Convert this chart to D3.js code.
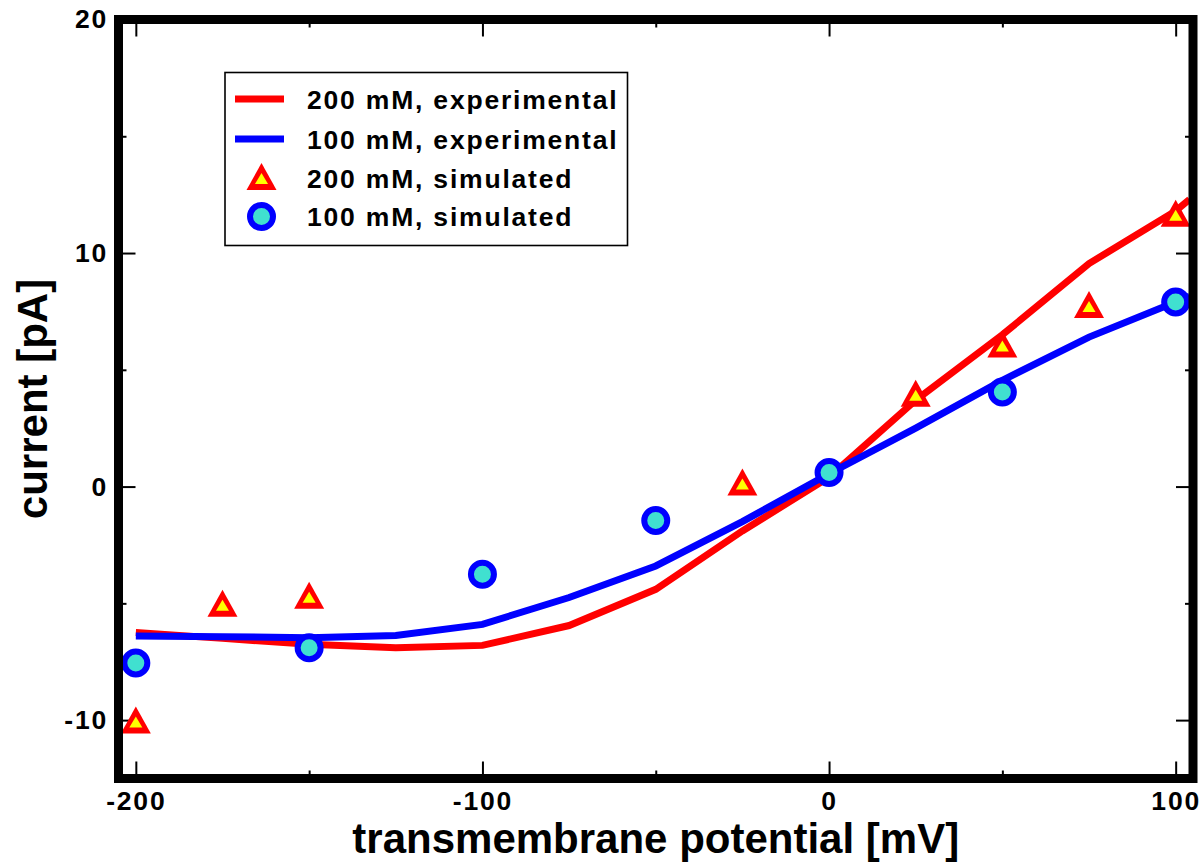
<!DOCTYPE html>
<html>
<head>
<meta charset="utf-8">
<script src="https://cdn.jsdelivr.net/npm/d3@7"></script>
<style>
  html, body { margin: 0; padding: 0; background: #fff; }
  svg { display: block; font-family: "Liberation Sans", Arial, Helvetica, sans-serif; font-weight: bold; }
</style>
</head>
<body>
<svg id="chart" width="1204" height="862"></svg>
<script>
// Experimental I-V curves (sampled every 25 mV, last sample runs into the frame)
const expVoltage = [-200, -175, -150, -125, -100, -75, -50, -25, 0, 25, 50, 75, 100, 104];
const exp200 = [-6.25, -6.5, -6.75, -6.9, -6.8, -5.95, -4.4, -1.9, 0.4, 3.7, 6.5, 9.55, 11.8, 12.3];
const exp100 = [-6.4, -6.43, -6.47, -6.38, -5.9, -4.75, -3.4, -1.5, 0.55, 2.5, 4.55, 6.4, 7.9, 8.15];

// Simulated currents
const sim200Voltage = [-200, -175, -150, -25, 25, 50, 75, 100];
const sim200 = [-10.0, -5.0, -4.65, 0.2, 4.0, 6.1, 7.8, 11.7];
const sim100Voltage = [-200, -150, -100, -50, 0, 50, 100];
const sim100 = [-7.55, -6.9, -3.75, -1.45, 0.6, 4.05, 7.9];

// Axes
const xMajorTicks = [-200, -100, 0, 100];
const xMajorLabels = ["-200", "-100", "0", "100"];
const xMinorTicks = [-150, -50, 50];
const yMajorTicks = [-10, 0, 10, 20];
const yMajorLabels = ["-10", "0", "10", "20"];
const yMinorTicks = [-5, 5, 15];

const legendLabels = ["200 mM, experimental", "100 mM, experimental", "200 mM, simulated", "100 mM, simulated"];
const xTitle = "transmembrane potential [mV]";
const yTitle = "current [pA]";

const RED = "#ff0000", BLUE = "#0000ff", YELLOW = "#ffff00", TURQ = "#40e0d0";

const svg = d3.select("#chart");
const pLeft = 118.5, pRight = 1193, pTop = 19.5, pBottom = 778.5;

const x = d3.scaleLinear().domain([-205, 105]).range([pLeft, pRight]);
const y = d3.scaleLinear().domain([-12.5, 20]).range([pBottom, pTop]);

// clip for the data lines
svg.append("defs").append("clipPath").attr("id", "plotClip")
  .append("rect").attr("x", pLeft).attr("y", pTop).attr("width", pRight - pLeft).attr("height", pBottom - pTop);

// ticks (inward on all four sides)
const MAJ = 17, MIN = 8;
function styleAxis(g) {
  g.select(".domain").remove();
  g.selectAll(".tick line").attr("stroke", "#000").attr("stroke-width", 2);
  g.selectAll(".tick text").attr("fill", "#000").style("font-size", "26.5px")
    .style("font-weight", "bold").style("letter-spacing", "1.8px");
}
const xLabelOf = d => xMajorLabels[xMajorTicks.indexOf(d)];
const yLabelOf = d => yMajorLabels[yMajorTicks.indexOf(d)];

svg.append("g").attr("transform", `translate(0,${pBottom})`)
  .call(d3.axisBottom(x).tickValues(xMajorTicks).tickFormat(xLabelOf).tickSizeInner(-MAJ).tickSizeOuter(0).tickPadding(12.5))
  .call(styleAxis);
svg.append("g").attr("transform", `translate(0,${pBottom})`)
  .call(d3.axisBottom(x).tickValues(xMinorTicks).tickFormat("").tickSizeInner(-MIN).tickSizeOuter(0))
  .call(styleAxis);
svg.append("g").attr("transform", `translate(0,${pTop})`)
  .call(d3.axisTop(x).tickValues(xMajorTicks).tickFormat("").tickSizeInner(-MAJ).tickSizeOuter(0))
  .call(styleAxis);
svg.append("g").attr("transform", `translate(0,${pTop})`)
  .call(d3.axisTop(x).tickValues(xMinorTicks).tickFormat("").tickSizeInner(-MIN).tickSizeOuter(0))
  .call(styleAxis);

svg.append("g").attr("transform", `translate(${pLeft},0)`)
  .call(d3.axisLeft(y).tickValues(yMajorTicks).tickFormat(yLabelOf).tickSizeInner(-MAJ).tickSizeOuter(0).tickPadding(10.5))
  .call(styleAxis);
svg.append("g").attr("transform", `translate(${pLeft},0)`)
  .call(d3.axisLeft(y).tickValues(yMinorTicks).tickFormat("").tickSizeInner(-MIN).tickSizeOuter(0))
  .call(styleAxis);
svg.append("g").attr("transform", `translate(${pRight},0)`)
  .call(d3.axisRight(y).tickValues(yMajorTicks).tickFormat("").tickSizeInner(-MAJ).tickSizeOuter(0))
  .call(styleAxis);
svg.append("g").attr("transform", `translate(${pRight},0)`)
  .call(d3.axisRight(y).tickValues(yMinorTicks).tickFormat("").tickSizeInner(-MIN).tickSizeOuter(0))
  .call(styleAxis);

// experimental curves
const line = d3.line().x(d => x(d[0])).y(d => y(d[1]));
const plot = svg.append("g").attr("clip-path", "url(#plotClip)");
[[exp200, RED], [exp100, BLUE]].forEach(([vals, col]) => {
  plot.append("path")
    .datum(expVoltage.map((v, i) => [v, vals[i]]))
    .attr("d", line).attr("fill", "none").attr("stroke", col)
    .attr("stroke-width", 7).attr("stroke-linejoin", "miter");
});

// marker shapes
const TRI_OUT = "M0,-13.5L15,13.5L-15,13.5Z";
const TRI_IN = "M0,-3.5L6.5,7.5L-6.5,7.5Z";
function triangle(g) {
  g.append("path").attr("d", TRI_OUT).attr("fill", RED);
  g.append("path").attr("d", TRI_IN).attr("fill", YELLOW);
}
function circle(g) {
  g.append("circle").attr("r", 11.5).attr("fill", TURQ).attr("stroke", BLUE).attr("stroke-width", 6);
}

svg.append("g").selectAll("g")
  .data(sim200Voltage.map((v, i) => [v, sim200[i]]))
  .join("g").attr("transform", d => `translate(${x(d[0])},${y(d[1])})`)
  .each(function () { triangle(d3.select(this)); });

svg.append("g").selectAll("g")
  .data(sim100Voltage.map((v, i) => [v, sim100[i]]))
  .join("g").attr("transform", d => `translate(${x(d[0])},${y(d[1])})`)
  .each(function () { circle(d3.select(this)); });

// frame
svg.append("rect").attr("x", pLeft).attr("y", pTop)
  .attr("width", pRight - pLeft).attr("height", pBottom - pTop)
  .attr("fill", "none").attr("stroke", "#000").attr("stroke-width", 9);

// legend
const lg = svg.append("g");
lg.append("rect").attr("x", 225).attr("y", 72.5).attr("width", 402.5).attr("height", 173)
  .attr("fill", "#fff").attr("stroke", "#000").attr("stroke-width", 1.6);
const rowY = [99, 139, 178.5, 216.5];
lg.append("line").attr("x1", 235).attr("x2", 284).attr("y1", rowY[0]).attr("y2", rowY[0])
  .attr("stroke", RED).attr("stroke-width", 7);
lg.append("line").attr("x1", 235).attr("x2", 284).attr("y1", rowY[1]).attr("y2", rowY[1])
  .attr("stroke", BLUE).attr("stroke-width", 7);
lg.append("g").attr("transform", `translate(261.5,${rowY[2] - 2})`).call(triangle);
lg.append("g").attr("transform", `translate(261.5,${rowY[3]})`).call(circle);
lg.selectAll("text.lab").data(legendLabels).join("text").attr("class", "lab")
  .attr("x", 307).attr("y", (d, i) => rowY[i] + 9.5)
  .style("font-size", "26.5px").style("letter-spacing", "1.8px")
  .text(d => d);

// axis titles
svg.append("text").attr("x", (pLeft + pRight) / 2).attr("y", 853)
  .attr("text-anchor", "middle").style("font-size", "42px").text(xTitle);
svg.append("text").attr("transform", `translate(47,${(pTop + pBottom) / 2}) rotate(-90)`)
  .attr("text-anchor", "middle").style("font-size", "42px").text(yTitle);
</script>
</body>
</html>
